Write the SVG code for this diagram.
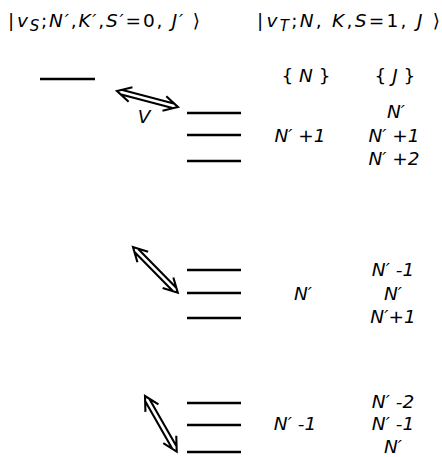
<svg xmlns="http://www.w3.org/2000/svg" width="442" height="457" viewBox="0 0 442 457">
<style>
text{font-family:"DejaVu Sans","Liberation Sans",sans-serif;font-size:18.5px;fill:#000}
.i{font-style:italic}
.lvl{stroke:#000;stroke-width:2.4;fill:none}
.arr{stroke:#000;stroke-width:2.1;fill:none;stroke-linejoin:miter}
</style>
<rect width="442" height="457" fill="#fff"/>
<g id="headers">
<text x="8" y="27" textLength="192" lengthAdjust="spacing"><tspan>|</tspan><tspan class="i" dx="1">v</tspan><tspan class="i" font-size="15" dy="4">S</tspan><tspan dy="-4">;</tspan><tspan class="i">N′</tspan>,<tspan class="i">K′</tspan>,<tspan class="i">S′</tspan>=0, <tspan class="i">J′</tspan> ⟩</text>
<text x="257" y="27" textLength="183" lengthAdjust="spacing"><tspan>|</tspan><tspan class="i" dx="1">v</tspan><tspan class="i" font-size="15" dy="4">T</tspan><tspan dy="-4">;</tspan><tspan class="i">N</tspan>, <tspan class="i">K</tspan>,<tspan class="i">S</tspan>=1, <tspan class="i">J</tspan> ⟩</text>
<text x="306" y="82" text-anchor="middle">{ <tspan class="i">N</tspan> }</text>
<text x="395" y="82" text-anchor="middle">{ <tspan class="i">J</tspan> }</text>
</g>
<g id="singlet">
<line class="lvl" x1="40" y1="79" x2="95" y2="79"/>
</g>
<g id="group1">
<line class="lvl" x1="187" y1="113" x2="241" y2="113"/>
<line class="lvl" x1="187" y1="135" x2="241" y2="135"/>
<line class="lvl" x1="187" y1="161" x2="241" y2="161"/>
<text class="i" x="300" y="142" text-anchor="middle">N′ +1</text>
<text class="i" x="396" y="118" text-anchor="middle">N′</text>
<text class="i" x="394" y="142" text-anchor="middle">N′ +1</text>
<text class="i" x="394" y="165" text-anchor="middle">N′ +2</text>
</g>
<g id="group2">
<line class="lvl" x1="187" y1="270" x2="241" y2="270"/>
<line class="lvl" x1="187" y1="293" x2="241" y2="293"/>
<line class="lvl" x1="187" y1="318" x2="241" y2="318"/>
<text class="i" x="303" y="300" text-anchor="middle">N′</text>
<text class="i" x="393" y="276" text-anchor="middle">N′ -1</text>
<text class="i" x="393" y="300" text-anchor="middle">N′</text>
<text class="i" x="393" y="323" text-anchor="middle">N′+1</text>
</g>
<g id="group3">
<line class="lvl" x1="187" y1="403" x2="241" y2="403"/>
<line class="lvl" x1="187" y1="425" x2="241" y2="425"/>
<line class="lvl" x1="187" y1="452" x2="241" y2="452"/>
<text class="i" x="295" y="430" text-anchor="middle">N′ -1</text>
<text class="i" x="393" y="408" text-anchor="middle">N′ -2</text>
<text class="i" x="393" y="430" text-anchor="middle">N′ -1</text>
<text class="i" x="393" y="453" text-anchor="middle">N′</text>
</g>
<g id="connectors">
<g transform="translate(117,91) rotate(14.7)">
<path class="arr" d="M5,-2.4 H58 M5,2.4 H58 M14,-7.5 L0,0 L14,7.5 M49,-7.5 L63,0 L49,7.5"/>
</g>
<text class="i" x="144" y="123" text-anchor="middle">V</text>
<g transform="translate(133,247) rotate(45.6)">
<path class="arr" d="M5,-2.4 H59 M5,2.4 H59 M14,-7.5 L0,0 L14,7.5 M50,-7.5 L64,0 L50,7.5"/>
</g>
<g transform="translate(145,396) rotate(60.3)">
<path class="arr" d="M5,-2.4 H59 M5,2.4 H59 M14,-7.5 L0,0 L14,7.5 M50,-7.5 L64,0 L50,7.5"/>
</g>
</g>
</svg>
